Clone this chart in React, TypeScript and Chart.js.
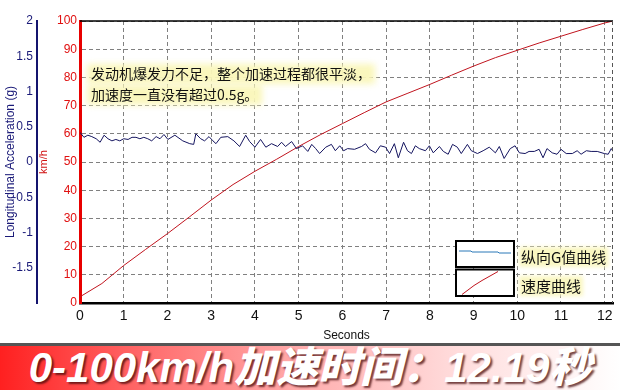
import React, { useEffect, useRef } from "react";
import { Chart, registerables } from "chart.js";

Chart.register(...registerables);

// Longitudinal acceleration (g) samples
const accelTimes = [
  0, 0.09, 0.18, 0.27, 0.37, 0.46, 0.55, 0.64, 0.73, 0.82, 0.91, 1.0, 1.1, 1.19, 1.28, 1.37, 1.46, 1.55, 1.64, 1.74,
  1.83, 1.92, 2.01, 2.17, 2.35, 2.51, 2.6, 2.65, 2.76, 2.85, 2.95, 3.04, 3.11, 3.22, 3.38, 3.52, 3.65, 3.79, 3.88, 4.0,
  4.13, 4.25, 4.38, 4.52, 4.61, 4.7, 4.84, 4.95, 5.09, 5.21, 5.3, 5.39, 5.48, 5.62, 5.75, 5.84, 5.94, 6.03, 6.12, 6.28,
  6.44, 6.53, 6.62, 6.76, 6.87, 6.99, 7.08, 7.19, 7.28, 7.4, 7.49, 7.58, 7.67, 7.76, 7.9, 7.99, 8.08, 8.22, 8.31, 8.42,
  8.52, 8.63, 8.72, 8.86, 8.95, 9.09, 9.22, 9.36, 9.5, 9.59, 9.7, 9.84, 9.95, 10.05, 10.18, 10.27, 10.39, 10.5, 10.59,
  10.68, 10.8, 10.91, 11.0, 11.12, 11.26, 11.37, 11.46, 11.58, 11.69, 11.83, 11.99, 12.08, 12.15, 12.19,
];
const accelG = [
  0.42, 0.35, 0.38, 0.36, 0.33, 0.28, 0.38, 0.33, 0.3, 0.32, 0.3, 0.33, 0.32, 0.35, 0.35, 0.33, 0.35, 0.33, 0.3, 0.36,
  0.33, 0.39, 0.32, 0.38, 0.3, 0.26, 0.25, 0.4, 0.33, 0.3, 0.36, 0.3, 0.26, 0.35, 0.36, 0.3, 0.22, 0.38, 0.29, 0.21,
  0.32, 0.21, 0.26, 0.22, 0.28, 0.22, 0.29, 0.19, 0.23, 0.15, 0.25, 0.19, 0.12, 0.21, 0.25, 0.16, 0.23, 0.16, 0.19, 0.18,
  0.22, 0.26, 0.18, 0.13, 0.23, 0.21, 0.12, 0.26, 0.06, 0.28, 0.16, 0.12, 0.23, 0.19, 0.16, 0.23, 0.13, 0.22, 0.15, 0.11,
  0.25, 0.21, 0.12, 0.25, 0.16, 0.12, 0.16, 0.21, 0.13, 0.22, 0.05, 0.19, 0.23, 0.13, 0.12, 0.15, 0.15, 0.18, 0.06,
  0.19, 0.13, 0.11, 0.18, 0.12, 0.12, 0.16, 0.11, 0.16, 0.15, 0.15, 0.12, 0.11, 0.19, 0.15,
];

// Speed (km/h) samples
const speedTimes = [0, 0.5, 1, 1.5, 2, 2.5, 3, 3.5, 4, 4.5, 5, 5.5, 6, 6.5, 7, 7.5, 8, 8.5, 9, 9.5, 10, 10.5, 11, 11.5, 12, 12.19];
const speedKmh = [2.2, 6.9, 13.3, 19.0, 24.6, 30.5, 36.5, 42.0, 46.7, 51.0, 55.5, 59.7, 63.6, 67.5, 71.3, 74.4, 77.5, 80.8, 84.0, 87.0, 89.6, 92.2, 94.6, 97.0, 99.3, 100];

const noteLines = ["发动机爆发力不足，整个加速过程都很平淡，", "加速度一直没有超过0.5g。"];
const legendLabels = ["纵向G值曲线", "速度曲线"];
const bannerText = "0-100km/h加速时间：12.19秒";
const xTitle = "Seconds";
const gTitle = "Longitudinal Acceleration (g)";
const speedTitle = "km/h";

const LATIN = "'Liberation Sans', Arial, sans-serif";
const CJK = "'Noto Sans CJK SC', 'Noto Sans', sans-serif";

const overlayPlugin = {
  id: "overlay",
  afterDatasetsDraw(chart: any) {
    const { ctx, chartArea: ca } = chart;
    ctx.save();
    // top border solid
    ctx.strokeStyle = "#000";
    ctx.lineWidth = 1.5;
    ctx.beginPath();
    ctx.moveTo(ca.left, ca.top);
    ctx.lineTo(ca.right, ca.top);
    ctx.stroke();
    // right border dashed
    ctx.strokeStyle = "#555";
    ctx.lineWidth = 1;
    ctx.setLineDash([4, 3]);
    ctx.beginPath();
    ctx.moveTo(ca.right - 0.5, ca.top);
    ctx.lineTo(ca.right - 0.5, ca.bottom);
    ctx.stroke();
    ctx.setLineDash([]);

    // annotation note
    ctx.font = `14px ${CJK}`;
    ctx.textBaseline = "middle";
    ctx.textAlign = "left";
    const nx = ca.left + 11;
    const ys = [ca.top + 53, ca.top + 74];
    ctx.save();
    ctx.filter = "blur(3px)";
    ctx.fillStyle = "rgba(250,247,185,0.95)";
    noteLines.forEach((t, i) => {
      const w = ctx.measureText(t).width;
      ctx.fillRect(nx - 4, ys[i] - 10, w + 8, 20);
    });
    ctx.restore();
    ctx.fillStyle = "#111";
    noteLines.forEach((t, i) => ctx.fillText(t, nx, ys[i]));

    // legend
    const bx = ca.right - 157;
    const bw = 58;
    const boxes = [
      { top: ca.top + 220, h: 26 },
      { top: ca.top + 248.5, h: 26.5 },
    ];
    boxes.forEach((b) => {
      ctx.fillStyle = "#fff";
      ctx.fillRect(bx, b.top, bw, b.h);
      ctx.strokeStyle = "#000";
      ctx.lineWidth = 2;
      ctx.strokeRect(bx, b.top, bw, b.h);
    });
    // sample lines
    ctx.lineWidth = 1;
    ctx.strokeStyle = "#2a78b8";
    ctx.beginPath();
    ctx.moveTo(bx + 3, boxes[0].top + 10);
    ctx.lineTo(bx + 15, boxes[0].top + 10);
    ctx.lineTo(bx + 16, boxes[0].top + 11);
    ctx.lineTo(bx + 42, boxes[0].top + 11);
    ctx.lineTo(bx + 43, boxes[0].top + 12);
    ctx.lineTo(bx + 55, boxes[0].top + 12);
    ctx.stroke();
    ctx.strokeStyle = "#c0141e";
    ctx.beginPath();
    ctx.moveTo(bx + 6, boxes[1].top + 25);
    ctx.lineTo(bx + 18, boxes[1].top + 16);
    ctx.lineTo(bx + 26, boxes[1].top + 11);
    ctx.lineTo(bx + 42, boxes[1].top + 2);
    ctx.stroke();

    ctx.font = `15px ${CJK}`;
    const lx = ca.right - 92;
    const lys = [boxes[0].top + 16, boxes[1].top + 16.5];
    ctx.save();
    ctx.filter = "blur(2px)";
    ctx.fillStyle = "rgba(250,247,190,0.95)";
    legendLabels.forEach((t, i) => {
      const w = ctx.measureText(t).width;
      ctx.fillRect(lx - 2, lys[i] - 10, w + 4, 20);
    });
    ctx.restore();
    ctx.fillStyle = "#111";
    legendLabels.forEach((t, i) => ctx.fillText(t, lx, lys[i]));
    ctx.restore();
  },
};

export default function App() {
  const ref = useRef<HTMLCanvasElement>(null);
  useEffect(() => {
    const gridColor = "#808080";
    const chart = new Chart(ref.current as HTMLCanvasElement, {
      type: "line",
      data: {
        datasets: [
          {
            label: legendLabels[0],
            data: accelTimes.map((t, i) => ({ x: t, y: accelG[i] })),
            yAxisID: "yG",
            borderColor: "#14145f",
            borderWidth: 1,
            pointRadius: 0,
            tension: 0,
          },
          {
            label: legendLabels[1],
            data: speedTimes.map((t, i) => ({ x: t, y: speedKmh[i] })),
            yAxisID: "yS",
            borderColor: "#c0141e",
            borderWidth: 1,
            pointRadius: 0,
            tension: 0,
          },
        ],
      },
      options: {
        animation: false,
        responsive: false,
        layout: { padding: { top: 21, right: 7, left: 0, bottom: 0 } },
        plugins: { legend: { display: false }, tooltip: { enabled: false } },
        scales: {
          x: {
            type: "linear",
            position: "bottom",
            min: 0,
            max: 12.19,
            ticks: {
              stepSize: 1,
              autoSkip: false,
              includeBounds: false,
              maxRotation: 0,
              color: "#111",
              font: { family: LATIN, size: 14 },
              padding: 5,
            },
            grid: { color: gridColor, lineWidth: 1, drawTicks: false },
            border: { color: "#000", width: 2.5, dash: [4, 3] },
            title: { display: true, text: xTitle, color: "#111", font: { family: LATIN, size: 12 }, padding: { top: 1, bottom: 0 } },
            afterFit: (s: any) => {
              s.height = 40;
            },
          },
          yS: {
            type: "linear",
            position: "left",
            weight: 1,
            min: 0,
            max: 100,
            ticks: { stepSize: 10, color: "#e01010", font: { family: LATIN, size: 12 }, padding: 3 },
            grid: { color: gridColor, lineWidth: 1, drawTicks: false },
            border: { color: "#e80000", width: 3, dash: [4, 3] },
            title: { display: true, text: speedTitle, color: "#d01010", font: { family: LATIN, size: 11 }, padding: { top: 0, bottom: 0 } },
            afterFit: (s: any) => {
              s.width = 43;
            },
          },
          yG: {
            type: "linear",
            position: "left",
            weight: 2,
            min: -2,
            max: 2,
            ticks: {
              stepSize: 0.5,
              color: "#1a1a78",
              font: { family: LATIN, size: 12 },
              padding: 4,
              callback: (v: any) => (v === -2 ? "" : String(v)),
            },
            grid: { drawOnChartArea: false, drawTicks: false },
            border: { color: "#14146e", width: 2 },
            title: { display: true, text: gTitle, color: "#1a1a78", font: { family: LATIN, size: 12 }, padding: { top: 3, bottom: 0 } },
            afterFit: (s: any) => {
              s.width = 37;
            },
          },
        },
      },
      plugins: [overlayPlugin],
    } as any);
    return () => chart.destroy();
  }, []);

  return (
    <div style={{ position: "absolute", left: 0, top: 0, width: 620, height: 390, background: "#fff", overflow: "hidden" }}>
      <canvas ref={ref} width={620} height={343} style={{ display: "block", width: 620, height: 343 }} />
      <div
        style={{
          position: "absolute",
          left: 0,
          top: 343,
          width: 620,
          height: 47,
          boxSizing: "border-box",
          borderTop: "3px solid #555",
          background: "linear-gradient(to right, #ff2020 0%, #ff7070 25%, #ffb0b0 50%, #ffdede 75%, #ffffff 100%)",
          textAlign: "center",
          overflow: "hidden",
        }}
      >
        <span
          style={{
            display: "inline-block",
            fontFamily: `'Liberation Sans', 'Noto Sans CJK SC', sans-serif`,
            fontSize: 42,
            fontWeight: 900,
            fontStyle: "italic",
            color: "#fff",
            lineHeight: "44px",
            marginTop: 0,
            whiteSpace: "nowrap",
            textShadow: "2px 2px 2px rgba(70,10,10,0.75)",
          }}
        >
          {bannerText}
        </span>
      </div>
    </div>
  );
}
